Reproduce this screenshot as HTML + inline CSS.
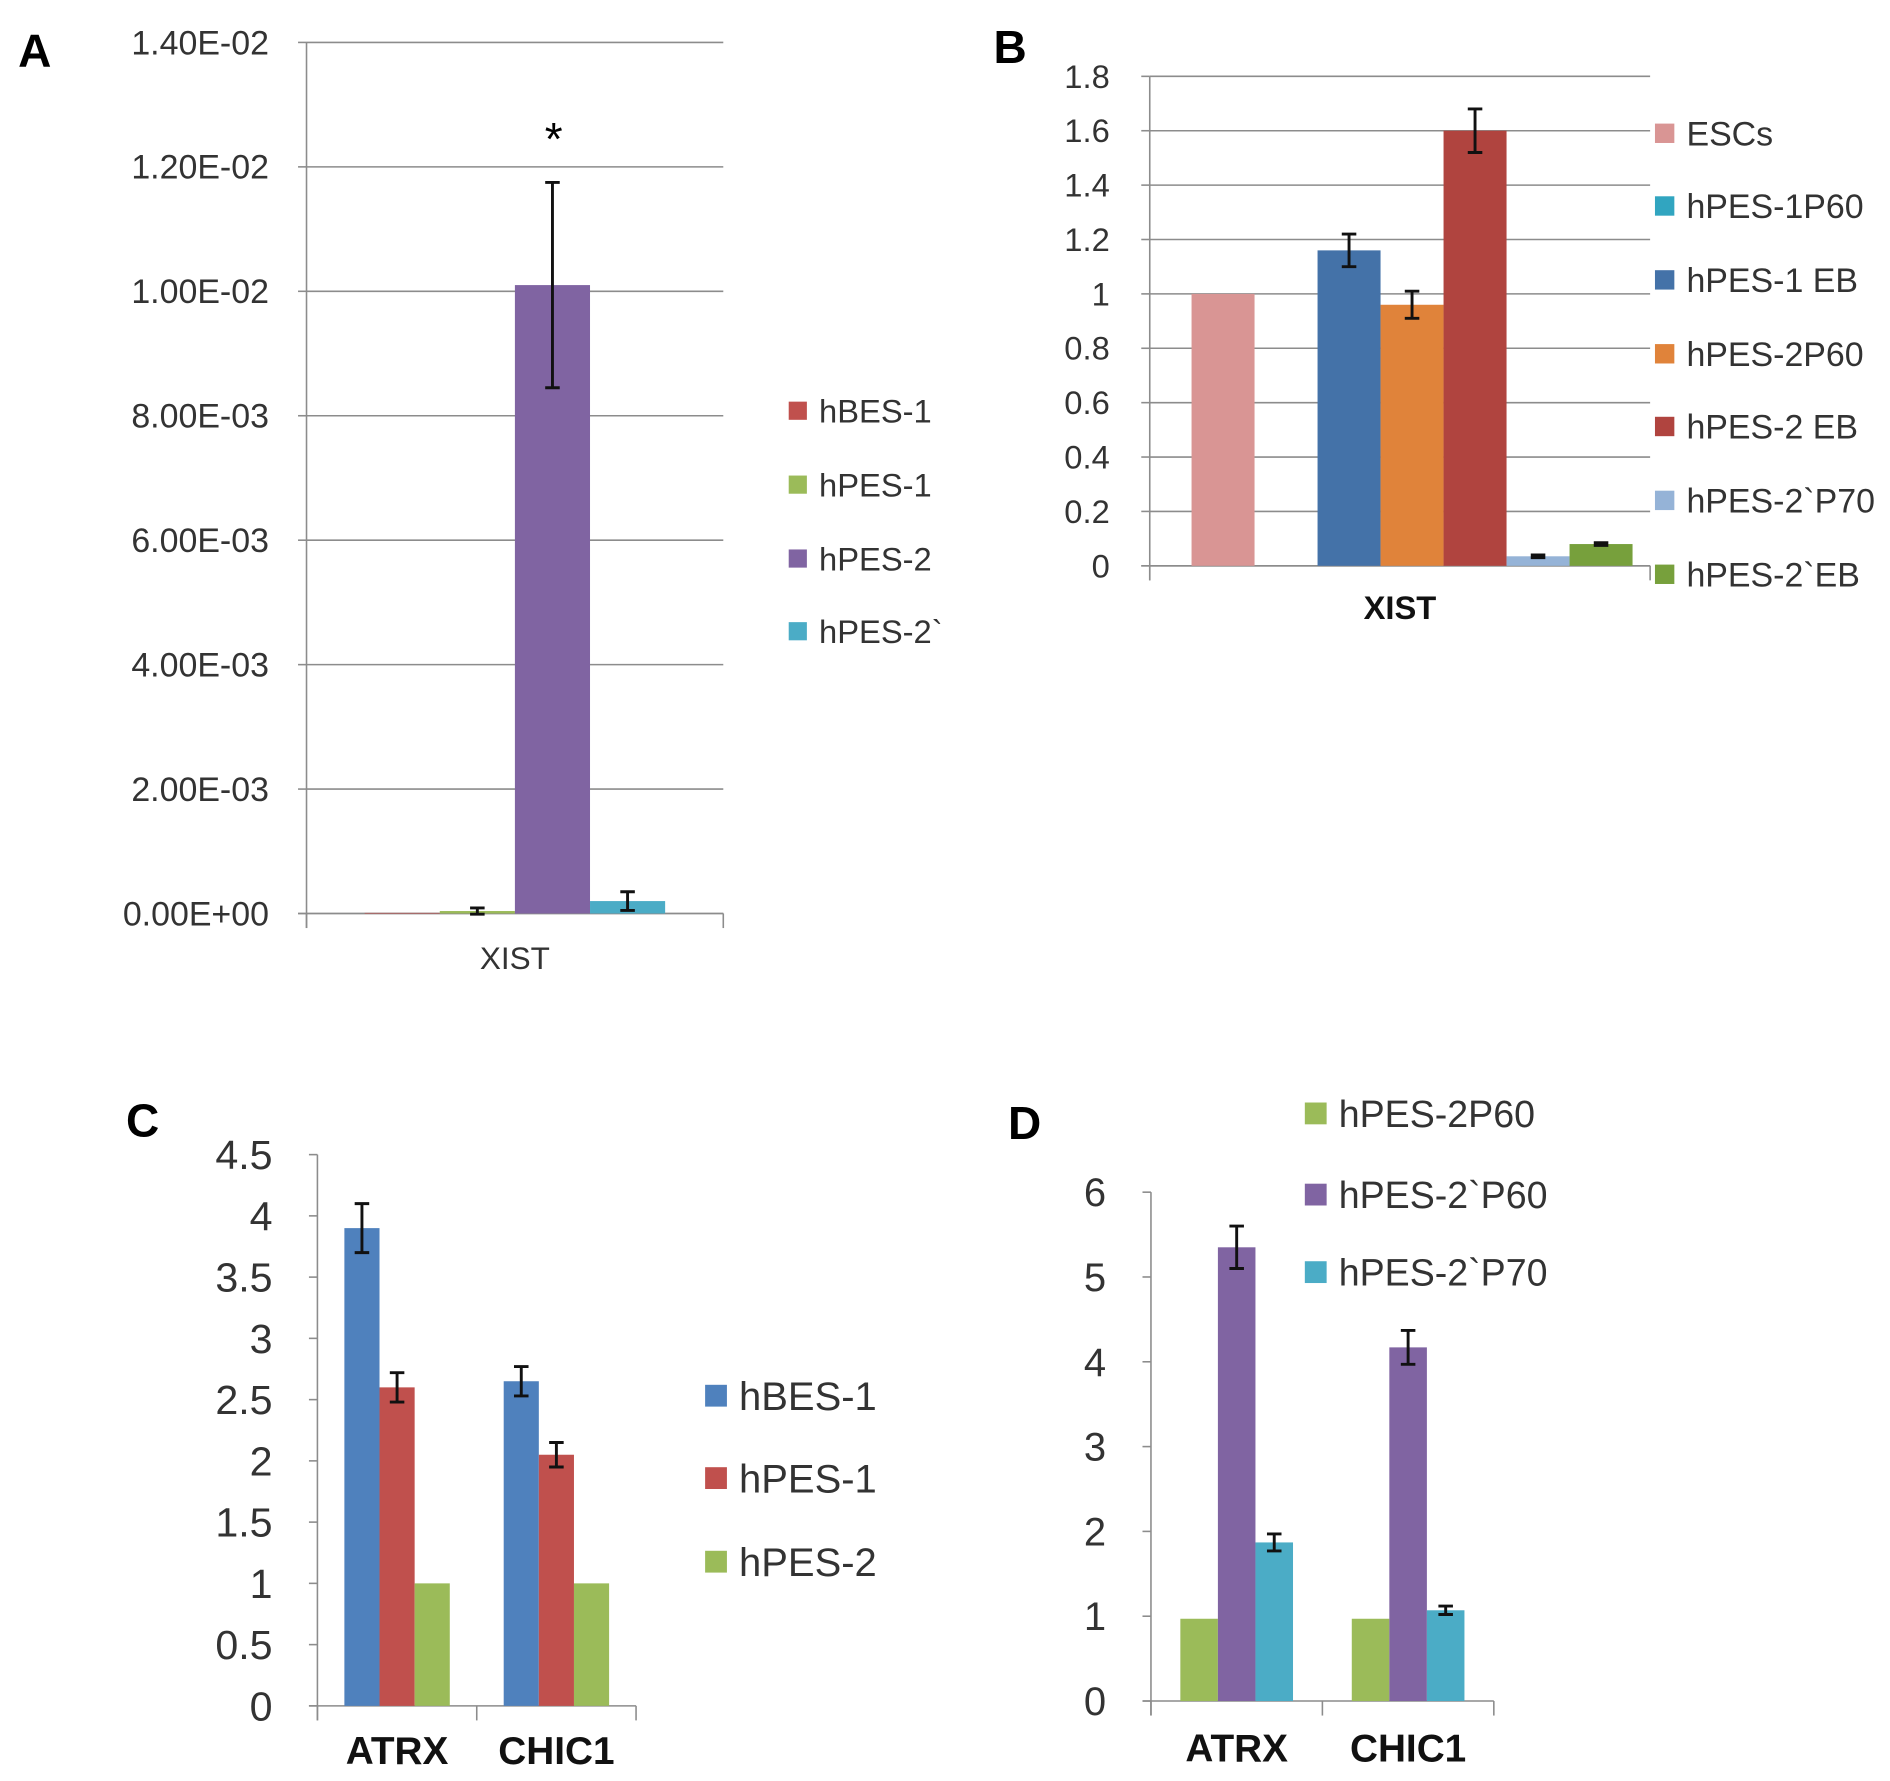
<!DOCTYPE html>
<html><head><meta charset="utf-8"><style>
html,body{margin:0;padding:0;background:#fff}
svg{display:block}
text{font-family:"Liberation Sans",sans-serif}
</style></head><body>
<svg id="fig" xmlns="http://www.w3.org/2000/svg" width="1890" height="1781" viewBox="0 0 1560 1470">
<text x="15" y="55" font-size="38" font-weight="bold">A</text>
<text x="820" y="52" font-size="38" font-weight="bold">B</text>
<text x="104" y="938" font-size="38" font-weight="bold">C</text>
<text x="832" y="940" font-size="38" font-weight="bold">D</text>
<text x="457" y="128" font-size="38" text-anchor="middle">*</text>
</svg>
<script>
// Panel A data
const aCats = ["XIST"];
const aSeries = ["hBES-1","hPES-1","hPES-2","hPES-2`"];
const aVals = [[0.00001],[0.00004],[0.0101],[0.0002]];
const aErr = [[0],[0.00005],[0.00165],[0.00015]];
const aTicks = ["0.00E+00","2.00E-03","4.00E-03","6.00E-03","8.00E-03","1.00E-02","1.20E-02","1.40E-02"];
// Panel B data
const bCats = ["XIST"];
const bSeries = ["ESCs","hPES-1P60","hPES-1 EB","hPES-2P60","hPES-2 EB","hPES-2`P70","hPES-2`EB"];
const bVals = [[1.0],[0],[1.16],[0.96],[1.6],[0.035],[0.08]];
const bErr = [[0],[0],[0.06],[0.05],[0.08],[0.005],[0.005]];
const bTicks = ["0","0.2","0.4","0.6","0.8","1","1.2","1.4","1.6","1.8"];
// Panel C data
const cCats = ["ATRX","CHIC1"];
const cSeries = ["hBES-1","hPES-1","hPES-2"];
const cVals = [[3.9,2.65],[2.6,2.05],[1.0,1.0]];
const cErr = [[0.2,0.12],[0.12,0.1],[0,0]];
const cTicks = ["0","0.5","1","1.5","2","2.5","3","3.5","4","4.5"];
// Panel D data
const dCats = ["ATRX","CHIC1"];
const dSeries = ["hPES-2P60","hPES-2`P60","hPES-2`P70"];
const dVals = [[0.97,0.97],[5.35,4.17],[1.87,1.07]];
const dErr = [[0,0],[0.25,0.2],[0.1,0.05]];
const dTicks = ["0","1","2","3","4","5","6"];

const svg=document.getElementById('fig');
const NS="http://www.w3.org/2000/svg";
function mk(tag,at){const e=document.createElementNS(NS,tag);for(const k in at)e.setAttribute(k,at[k]);svg.appendChild(e);return e;}

function panel(p){
  const ymax=parseFloat(p.ticks[p.ticks.length-1]);
  const y=v=>p.y0-(v/ymax)*(p.y0-p.ytop);
  p.ticks.forEach((t,i)=>{
    const v=parseFloat(t), yy=y(v);
    if(p.grid){const g=mk('line',{x1:p.x0,x2:p.x1,y1:yy,y2:yy,stroke:'#8c8c8c','stroke-width':1.3});
      
      }
    const tk=mk('line',{x1:p.x0-7,x2:p.x0,y1:yy,y2:yy,stroke:'#8c8c8c','stroke-width':1.3});
    
    
    const tx=mk('text',{x:p.tickX,y:yy+p.tfs*0.35,'font-size':p.tfs,'text-anchor':'end',fill:'#333'});
    tx.textContent=t;
    
    
  });
  const ax=mk('line',{x1:p.x0,x2:p.x0,y1:p.ytop,y2:p.y0+12,stroke:'#8c8c8c','stroke-width':1.3});
  
  
  const xa=mk('line',{x1:p.x0-7,x2:p.x1,y1:p.y0,y2:p.y0,stroke:'#8c8c8c','stroke-width':1.3});
  
  
  const n=p.cats.length, slot=(p.x1-p.x0)/n;
  for(let c=0;c<=n;c++){const tk=mk('line',{x1:p.x0+c*slot,x2:p.x0+c*slot,y1:p.y0,y2:p.y0+12,stroke:'#8c8c8c','stroke-width':1.3});
    
    }
  p.cats.forEach((cat,c)=>{
    const cx=p.x0+slot*(c+0.5), ns=p.series.length;
    const start=cx-ns*p.bw/2+p.off;
    p.series.forEach((s,i)=>{
      const v=p.vals[i][c]; const bx=start+i*p.bw;
      if(v>0){const r=mk('rect',{x:bx,y:y(v),width:p.bw,height:p.y0-y(v),fill:p.colors[i]});
        
        }
      const e=p.err[i][c];
      if(e>0){const ex=bx+p.bw/2;
        const l=mk('path',{d:`M${ex},${y(v+e)}V${y(v-e)}M${ex-6},${y(v+e)}h12M${ex-6},${y(v-e)}h12`,stroke:'#111','stroke-width':2.4,fill:'none'});
        
        }
    });
    const lb=mk('text',{x:cx,y:p.catY,'font-size':p.cfs,'text-anchor':'middle','font-weight':p.cbold?'bold':'normal',fill:p.cbold?'#111':'#333'});
    lb.textContent=cat;
    
    
  });
  p.series.forEach((s,i)=>{
    const ly=p.legY[i];
    const sq=mk('rect',{x:p.legX,y:ly-p.sq/2,width:p.sq,height:p.sq,fill:p.colors[i]});
    
    
    const t=mk('text',{x:p.legX+p.sq+10,y:ly+p.lfs*0.36,'font-size':p.lfs,fill:'#333'});
    t.textContent=s;
    
    
  });
}
panel({id:'a',cats:aCats,series:aSeries,vals:aVals,err:aErr,ticks:aTicks,x0:253,x1:597,y0:754,ytop:35,grid:true,tickX:222,tfs:28,bw:62,off:0,colors:['#c0504d','#9bbb59','#8064a2','#4bacc6'],catY:800,cfs:26,cbold:false,legX:651,legY:[339,400,461,521],sq:15,lfs:27});
panel({id:'b',cats:bCats,series:bSeries,vals:bVals,err:bErr,ticks:bTicks,x0:949,x1:1362,y0:467,ytop:63,grid:true,tickX:916,tfs:27,bw:52,off:10,colors:['#d99594','#31a5c0','#4472a8','#e0833a','#b0443f','#95b3d7','#77a03c'],catY:511,cfs:27,cbold:true,legX:1366,legY:[110,170,231,292,352,413,474],sq:16,lfs:28});
panel({id:'c',cats:cCats,series:cSeries,vals:cVals,err:cErr,ticks:cTicks,x0:262,x1:525,y0:1408,ytop:953,grid:false,tickX:225,tfs:34,bw:29,off:0,colors:['#4f81bd','#c0504d','#9bbb59'],catY:1456,cfs:32,cbold:true,legX:582,legY:[1152,1220,1289],sq:18,lfs:33});
panel({id:'d',cats:dCats,series:dSeries,vals:dVals,err:dErr,ticks:dTicks,x0:950,x1:1233,y0:1404,ytop:984,grid:false,tickX:913,tfs:33,bw:31,off:0,colors:['#9bbb59','#8064a2','#4bacc6'],catY:1454,cfs:32,cbold:true,legX:1077,legY:[919,986,1050],sq:18,lfs:31});
</script>
</body></html>
